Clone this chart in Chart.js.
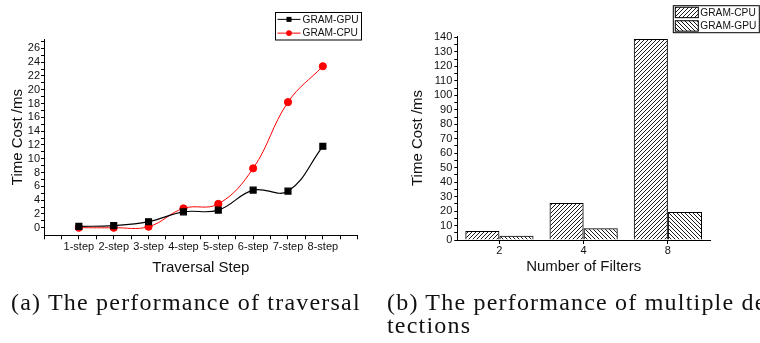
<!DOCTYPE html>
<html>
<head>
<meta charset="utf-8">
<title>GRAM performance</title>
<script src="https://cdn.jsdelivr.net/npm/chart.js@4.4.1/dist/chart.umd.min.js"></script>
<style>
  body { margin: 0; background: #fff; width: 760px; height: 343px; overflow: hidden; position: relative; }
  .panel { position: absolute; top: 0; width: 380px; height: 290px; }
  .cap { position: absolute; font-family: "Liberation Serif", "DejaVu Serif", serif; font-size: 24px; line-height: 23px; letter-spacing: 1.2px; color: #111; white-space: nowrap; }
</style>
</head>
<body>
<div class="panel" style="left:0"><canvas id="traversalChart"></canvas></div>
<div class="panel" style="left:380px"><canvas id="filterChart"></canvas></div>
<div class="cap" style="left:11px; top:291px">(a) The performance of traversal</div>
<div class="cap" style="left:387px; top:291px">(b) The performance of multiple de<br>tections</div>
<script>
// traversal data (left chart)
const steps = ['1-step', '2-step', '3-step', '4-step', '5-step', '6-step', '7-step', '8-step'];
const gpuTraversal = [0.2, 0.3, 0.87, 2.3, 2.55, 5.45, 5.3, 11.8];
const cpuTraversal = [0.0, 0.0, 0.15, 2.8, 3.45, 8.6, 18.2, 23.4];

// multiple detections data (right chart)
const filterCounts = ['2', '4', '8'];
const cpuFilters = [6.2, 25.5, 139];
const gpuFilters = [3.0, 8.1, 19.4];

Chart.defaults.font.family = '"Liberation Sans", Arial, sans-serif';
Chart.defaults.font.size = 11;
Chart.defaults.color = '#111';

// diagonal hatch fill, '/' or '\'
function hatch(dir) {
    const s = 4;
    const c = document.createElement('canvas');
    c.width = s; c.height = s;
    const g = c.getContext('2d');
    g.strokeStyle = '#000';
    g.lineWidth = 0.9;
    g.beginPath();
    if (dir === '/') {
        g.moveTo(0, s); g.lineTo(s, 0);
        g.moveTo(-1, 1); g.lineTo(1, -1);
        g.moveTo(s - 1, s + 1); g.lineTo(s + 1, s - 1);
    } else {
        g.moveTo(0, 0); g.lineTo(s, s);
        g.moveTo(-1, s - 1); g.lineTo(1, s + 1);
        g.moveTo(s - 1, -1); g.lineTo(s + 1, 1);
    }
    g.stroke();
    return g.createPattern(c, 'repeat');
}

// boxed legend drawn in a fixed spot, like the Origin plots
const boxLegend = {
    id: 'boxLegend',
    afterDraw(chart, args, opts) {
        const ctx = chart.ctx;
        const { x, y, w, h, kind } = opts;
        ctx.save();
        ctx.fillStyle = '#fff';
        ctx.fillRect(x, y, w, h);
        ctx.strokeStyle = '#000';
        ctx.lineWidth = 1;
        ctx.strokeRect(x, y, w, h);
        const rowH = h / chart.data.datasets.length;
        chart.data.datasets.forEach((ds, i) => {
            const cy = y + rowH * (i + 0.5);
            if (kind === 'line') {
                ctx.strokeStyle = ds.borderColor;
                ctx.lineWidth = 1;
                ctx.beginPath();
                ctx.moveTo(x + 2, cy); ctx.lineTo(x + 25, cy);
                ctx.stroke();
                ctx.fillStyle = ds.pointBackgroundColor;
                if (ds.pointStyle === 'rect') {
                    ctx.fillRect(x + 11, cy - 2.5, 5, 5);
                } else {
                    ctx.beginPath();
                    ctx.arc(x + 13.5, cy, 2.8, 0, Math.PI * 2);
                    ctx.fill();
                }
            } else {
                ctx.fillStyle = '#fff';
                ctx.fillRect(x + 2, cy - 5.2, 23, 10.4);
                ctx.fillStyle = ds.backgroundColor;
                ctx.fillRect(x + 2, cy - 5.2, 23, 10.4);
                ctx.strokeStyle = '#000';
                ctx.lineWidth = 1;
                ctx.strokeRect(x + 2, cy - 5.2, 23, 10.4);
            }
            ctx.fillStyle = '#111';
            ctx.font = '10.2px "Liberation Sans", Arial, sans-serif';
            ctx.textBaseline = 'middle';
            ctx.fillText(ds.label, x + 27, cy + 0.5);
        });
        ctx.restore();
    }
};

const traversalChart = new Chart(document.getElementById('traversalChart'), {
    type: 'line',
    data: {
        datasets: [{
            label: 'GRAM-GPU',
            data: gpuTraversal.map((v, i) => ({ x: i + 1, y: v })),
            borderColor: '#000',
            backgroundColor: '#000',
            pointBackgroundColor: '#000',
            pointBorderColor: '#000',
            pointStyle: 'rect',
            pointRadius: 4.2,
            borderWidth: 1.2,
            tension: 0.4
        }, {
            label: 'GRAM-CPU',
            data: cpuTraversal.map((v, i) => ({ x: i + 1, y: v })),
            borderColor: '#ff0000',
            backgroundColor: '#ff0000',
            pointBackgroundColor: '#ff0000',
            pointBorderColor: '#ff0000',
            pointStyle: 'circle',
            pointRadius: 3.6,
            borderWidth: 1,
            tension: 0.4
        }]
    },
    options: {
        responsive: true,
        maintainAspectRatio: false,
        animation: false,
        layout: { padding: { top: 39, right: 22.3, left: 0, bottom: 0 } },
        plugins: {
            legend: { display: false },
            tooltip: { enabled: false },
            boxLegend: { x: 275.5, y: 12.5, w: 86, h: 27.5, kind: 'line' }
        },
        scales: {
            x: {
                type: 'linear',
                min: 0,
                max: 9,
                afterFit: (scale) => { scale.height = 54.7; },
                grid: { drawOnChartArea: false, tickLength: 4, color: '#000' },
                border: { color: '#000', width: 1 },
                ticks: {
                    stepSize: 0.5,
                    autoSkip: false,
                    maxRotation: 0,
                    minRotation: 0,
                    padding: 1,
                    callback: (v) => (Number.isInteger(v) && v >= 1 && v <= 8) ? steps[v - 1] : ''
                },
                title: { display: true, text: 'Traversal Step', font: { size: 15 }, padding: { top: 0, bottom: 12.7 } }
            },
            y: {
                min: -1.1,
                max: 27.35,
                afterFit: (scale) => { scale.width = 44; },
                grid: {
                    drawOnChartArea: false,
                    tickLength: 3,
                    tickColor: (c) => c.tick && c.tick.value < 0 ? 'rgba(0,0,0,0)' : '#000'
                },
                border: { color: '#000', width: 1 },
                ticks: {
                    stepSize: 1,
                    includeBounds: false,
                    autoSkip: false,
                    padding: 1,
                    callback: (v) => (v >= 0 && v % 2 === 0) ? v : ''
                },
                title: { display: true, text: 'Time Cost /ms', font: { size: 15 }, padding: { top: 8.5, bottom: 0 } }
            }
        }
    },
    plugins: [boxLegend]
});

const filterChart = new Chart(document.getElementById('filterChart'), {
    type: 'bar',
    data: {
        labels: filterCounts,
        datasets: [{
            label: 'GRAM-CPU',
            data: cpuFilters,
            backgroundColor: hatch('/'),
            borderColor: '#000',
            borderWidth: 1
        }, {
            label: 'GRAM-GPU',
            data: gpuFilters,
            backgroundColor: hatch('\\'),
            borderColor: '#000',
            borderWidth: 1
        }]
    },
    options: {
        responsive: true,
        maintainAspectRatio: false,
        animation: false,
        layout: { padding: { top: 36, right: 50, left: 0, bottom: 0 } },
        datasets: { bar: { categoryPercentage: 0.81, barPercentage: 1 } },
        plugins: {
            legend: { display: false },
            tooltip: { enabled: false },
            boxLegend: { x: 293.3, y: 5.7, w: 86, h: 27, kind: 'bar' }
        },
        scales: {
            x: {
                afterFit: (scale) => { scale.height = 50; },
                grid: { drawOnChartArea: false, offset: false, tickLength: 4, color: '#000' },
                border: { color: '#000', width: 1 },
                ticks: { padding: 0, maxRotation: 0 },
                title: { display: true, text: 'Number of Filters', font: { size: 15 }, padding: { top: 0, bottom: 14.3 } }
            },
            y: {
                min: 0,
                max: 141,
                afterFit: (scale) => { scale.width = 77.3; },
                grid: { drawOnChartArea: false, tickLength: 3, color: '#000' },
                border: { color: '#000', width: 1 },
                ticks: {
                    stepSize: 5,
                    includeBounds: false,
                    autoSkip: false,
                    padding: 2,
                    callback: (v) => v % 10 === 0 ? v : ''
                },
                title: { display: true, text: 'Time Cost /ms', font: { size: 15 }, padding: { top: 28.5, bottom: 0 } }
            }
        }
    },
    plugins: [boxLegend]
});
</script>
</body>
</html>
